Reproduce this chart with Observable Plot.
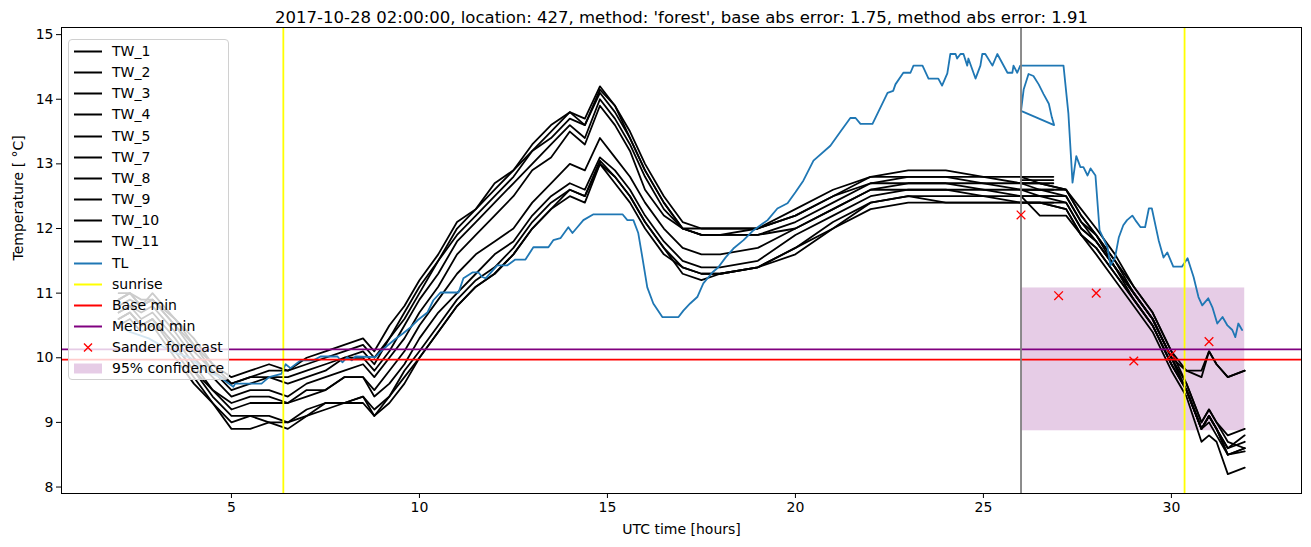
<!DOCTYPE html>
<html><head><meta charset="utf-8">
<script src="https://cdn.jsdelivr.net/npm/d3@7"></script>
<script src="https://cdn.jsdelivr.net/npm/@observablehq/plot@0.6"></script>
<style>
body{margin:0;background:#fff;}
#wrap{position:relative;width:1311px;height:547px;font-family:"DejaVu Sans",sans-serif;}
#legend{position:absolute;left:68px;top:39px;width:161px;height:341px;background:rgba(255,255,255,0.8);border:1px solid #d0d0d0;border-radius:4px;box-sizing:border-box;}
.row{position:absolute;left:0;height:21px;font-size:14px;line-height:21px;white-space:nowrap;color:#000;}
.row svg{position:absolute;left:5px;top:0;}
.row span{position:absolute;left:43px;top:0;}
</style>
</head><body>
<div id="wrap"><div id="chart"></div><div id="legend"></div></div>
<script>
// ---------- data ----------
const titleText = "2017-10-28 02:00:00, location: 427, method: 'forest', base abs error: 1.75, method abs error: 1.91";
const xTicks = [5, 10, 15, 20, 25, 30];
const yTicks = [8, 9, 10, 11, 12, 13, 14, 15];

const twNames = ["TW_1","TW_2","TW_3","TW_4","TW_5","TW_7","TW_8","TW_9","TW_10","TW_11"];
const twHours = [2.0,2.3,2.6,2.9,3.5,4.0,4.5,5.0,5.5,6.0,6.5,7.0,7.5,8.0,8.5,8.8,9.2,9.6,10.0,10.5,11.0,11.5,12.0,12.5,13.0,13.5,14.0,14.4,14.8,15.2,15.6,16.0,16.5,17.0,17.5,18.0,19.0,20.0,21.0,22.0,23.0,24.0,25.0,26.0,26.5,27.2,27.6,28.0,28.5,29.0,29.5,30.0,30.4,30.8,31.0,31.2,31.5,31.95];
const tw1  = [10.9,11.0,10.8,11.0,10.6,10.3,9.9,9.7,9.8,9.9,9.8,10.0,10.1,10.2,10.3,10.1,10.5,10.8,11.2,11.6,12.1,12.3,12.7,12.9,13.3,13.6,13.8,13.7,14.2,13.9,13.5,13.0,12.5,12.1,12.0,12.0,12.0,12.3,12.6,12.8,12.9,12.9,12.8,12.8,12.7,12.6,12.3,12.0,11.6,11.1,10.7,10.1,9.6,9.0,9.2,9.0,8.7,8.6];
const tw2  = [11.0,11.0,10.9,10.9,10.6,10.2,9.9,9.6,9.7,9.8,9.8,9.9,10.0,10.1,10.2,10.0,10.3,10.7,11.1,11.5,12.0,12.3,12.6,12.9,13.2,13.5,13.8,13.6,14.1,13.8,13.4,12.9,12.4,12.0,12.0,12.0,12.0,12.2,12.5,12.8,12.8,12.8,12.8,12.7,12.7,12.6,12.2,11.9,11.5,11.1,10.7,10.1,9.8,9.8,10.1,9.9,9.7,9.8];
const tw3  = [10.8,10.9,10.8,10.9,10.5,10.2,9.8,9.6,9.7,9.7,9.7,9.8,9.9,10.0,10.1,9.9,10.3,10.6,11.0,11.5,11.9,12.2,12.5,12.8,13.2,13.4,13.7,13.6,14.15,13.9,13.4,12.9,12.4,12.0,11.9,11.9,12.0,12.2,12.5,12.7,12.8,12.8,12.7,12.7,12.6,12.6,12.2,11.9,11.5,11.0,10.6,10.0,9.5,8.9,9.1,8.9,8.6,8.7];
const tw4  = [10.9,11.0,10.8,10.9,10.5,10.1,9.8,9.5,9.6,9.7,9.6,9.7,9.8,10.0,10.0,9.8,10.1,10.5,10.9,11.3,11.8,12.1,12.4,12.7,13.0,13.3,13.6,13.4,14.0,13.7,13.3,12.8,12.3,12.0,11.9,11.9,11.9,12.1,12.4,12.7,12.7,12.7,12.7,12.6,12.6,12.5,12.1,11.9,11.4,11.0,10.6,10.0,9.8,9.7,10.1,9.9,9.7,9.8];
const tw5  = [10.7,10.8,10.7,10.8,10.4,10.0,9.7,9.4,9.5,9.5,9.4,9.6,9.7,9.8,9.9,9.7,10.0,10.3,10.7,11.1,11.6,11.9,12.2,12.5,12.9,13.1,13.5,13.3,13.9,13.6,13.2,12.6,12.2,12.0,11.9,11.9,11.9,12.0,12.3,12.6,12.7,12.7,12.6,12.6,12.5,12.5,12.1,11.8,11.4,11.0,10.6,10.0,9.6,9.0,9.2,9.0,8.8,8.9];
const tw7  = [10.6,10.7,10.5,10.6,10.2,9.8,9.5,9.3,9.4,9.4,9.3,9.5,9.5,9.7,9.7,9.5,9.8,10.1,10.5,10.9,11.3,11.6,11.8,12.0,12.4,12.7,13.0,12.9,13.4,13.1,12.8,12.4,12.0,11.7,11.6,11.6,11.7,12.0,12.3,12.6,12.6,12.6,12.6,12.5,12.2,12.2,11.9,11.6,11.2,10.8,10.4,9.8,9.4,8.7,8.8,8.7,8.2,8.3];
const tw8  = [10.7,10.8,10.6,10.7,10.3,9.9,9.5,9.2,9.3,9.3,9.3,9.4,9.5,9.7,9.7,9.4,9.6,9.9,10.3,10.7,11.0,11.3,11.6,11.8,12.2,12.5,12.7,12.6,13.1,12.9,12.6,12.2,11.8,11.5,11.4,11.4,11.5,11.9,12.2,12.5,12.6,12.6,12.5,12.5,12.5,12.4,12.0,11.8,11.4,11.0,10.6,10.0,9.5,8.9,9.1,8.9,8.6,8.8];
const tw9  = [10.6,10.7,10.5,10.6,10.1,9.7,9.3,9.0,9.1,9.1,9.0,9.2,9.3,9.3,9.4,9.2,9.4,9.8,10.1,10.5,10.9,11.2,11.4,11.7,12.1,12.4,12.6,12.5,13.05,12.8,12.5,12.1,11.7,11.4,11.3,11.3,11.4,11.7,12.1,12.4,12.5,12.5,12.5,12.4,12.4,12.4,12.0,11.8,11.4,10.9,10.5,9.9,9.5,8.9,9.1,8.9,8.5,8.6];
const tw10 = [10.5,10.6,10.4,10.5,10.0,9.6,9.3,8.9,8.9,9.0,8.9,9.1,9.2,9.3,9.3,9.1,9.3,9.6,10.0,10.4,10.8,11.1,11.3,11.6,12.0,12.3,12.6,12.5,13.0,12.8,12.5,12.1,11.7,11.3,11.2,11.3,11.4,11.7,12.0,12.4,12.5,12.4,12.4,12.4,12.4,12.3,11.9,11.7,11.3,10.9,10.5,9.9,9.5,8.9,9.1,8.9,8.5,8.55];
const tw11 = [10.6,10.7,10.5,10.6,10.2,9.8,9.4,9.1,9.1,9.0,9.0,9.1,9.3,9.3,9.4,9.1,9.4,9.7,10.0,10.4,10.8,11.1,11.3,11.6,12.0,12.3,12.5,12.4,13.0,12.7,12.4,12.0,11.6,11.4,11.3,11.3,11.4,11.6,12.0,12.3,12.4,12.4,12.4,12.4,12.4,12.3,11.9,11.7,11.3,10.9,10.5,9.9,9.5,8.9,9.0,8.8,8.5,8.6];
const twValues = [tw1, tw2, tw3, tw4, tw5, tw7, tw8, tw9, tw10, tw11];
// short overlapping TW pieces between hour 26 and 26.86
const twTailStart = 26.0, twTailEnd = 26.86;
const twTailLevels = [12.8, 12.75, 12.7, 12.6, 12.5, 12.4];

const tlHours = [2.0,2.3,2.8,3.4,3.9,4.3,4.7,5.05,5.1,5.8,6.0,6.33,6.44,6.57,6.84,7.18,7.37,7.82,7.95,8.08,8.2,8.3,8.83,8.96,9.15,9.36,9.57,9.76,9.95,10.21,10.37,10.56,11.04,11.17,11.41,11.57,11.67,11.76,12.07,12.34,12.55,12.82,13.03,13.43,13.56,13.75,13.96,14.07,14.2,14.36,14.63,15.4,15.53,15.69,15.82,15.93,16.06,16.22,16.46,16.89,17.02,17.2,17.39,17.55,17.79,17.95,18.14,18.35,18.62,18.88,19.26,19.52,19.79,20.0,20.21,20.48,20.93,21.2,21.46,21.6,21.73,22.05,22.45,22.6,22.66,22.87,23.06,23.14,23.38,23.54,23.8,23.9,24.04,24.12,24.26,24.3,24.39,24.47,24.57,24.6,24.79,24.92,24.97,25.05,25.24,25.37,25.64,25.77,25.8,25.9,25.98,26.38,27.13,27.26,27.37,27.47,27.58,27.66,27.77,27.85,27.98,28.09,28.3,28.38,28.5,28.6,28.72,28.82,28.96,29.04,29.18,29.3,29.4,29.48,29.66,29.79,29.89,30.05,30.28,30.43,30.59,30.72,30.82,30.98,31.09,31.22,31.36,31.49,31.62,31.7,31.78,31.88];
const tlTemps = [10.5,10.4,10.3,10.1,10.0,9.8,9.7,9.55,9.6,9.6,9.7,9.75,9.9,9.84,9.96,9.96,10.02,10.02,9.93,10.01,9.96,10.02,10.01,10.09,10.19,10.29,10.38,10.47,10.58,10.7,10.89,11.01,11.01,11.23,11.32,11.32,11.25,11.23,11.43,11.43,11.52,11.52,11.71,11.71,11.82,11.85,12.02,11.93,12.02,12.13,12.22,12.22,12.13,12.13,11.93,11.55,11.09,10.84,10.63,10.63,10.73,10.84,10.94,11.15,11.32,11.4,11.55,11.69,11.82,11.97,12.13,12.31,12.39,12.56,12.74,13.05,13.28,13.5,13.71,13.71,13.62,13.62,14.1,14.13,14.23,14.41,14.41,14.52,14.52,14.32,14.32,14.21,14.4,14.7,14.7,14.63,14.7,14.7,14.52,14.63,14.32,14.52,14.7,14.7,14.52,14.7,14.41,14.41,14.52,14.41,14.52,14.52,14.52,13.78,12.71,13.12,12.95,12.95,12.82,12.93,12.82,11.97,11.71,11.43,11.55,11.86,12.05,12.13,12.2,12.13,12.02,12.02,12.31,12.31,11.82,11.55,11.63,11.41,11.41,11.54,11.25,10.94,10.81,10.92,10.78,10.53,10.63,10.5,10.43,10.32,10.53,10.43];
// TL loop drawn between hour 26 and 27
const tlLoopHours = [26.0,26.07,26.2,26.33,26.47,26.6,26.74,26.82,26.88,26.0];
const tlLoopTemps = [13.82,14.15,14.39,14.36,14.23,14.08,13.93,13.72,13.6,13.82];

const sunriseHours = [6.38, 30.35];
const forecastStartHour = 26.0;
const baseMin = 9.97;
const methodMin = 10.13;
const forecastHours = [26, 27, 28, 29, 30, 31];
const forecastTemps = [12.21, 10.96, 11.0, 9.95, 10.05, 10.25];
const confHours = [26.0, 31.95];
const confTemps = [8.87, 11.08];

// ---------- build tables ----------
const twRows = [];
twNames.forEach((n, i) => twValues[i].forEach((v, j) => twRows.push({series: n, h: twHours[j], t: v})));
const tailRows = [];
twTailLevels.forEach((v, i) => { tailRows.push({k: i, h: twTailStart, t: v}); tailRows.push({k: i, h: twTailEnd, t: v}); });
const tlRows = tlHours.map((h, i) => ({h, t: tlTemps[i]}));
const loopRows = tlLoopHours.map((h, i) => ({h, t: tlLoopTemps[i]}));
const fcRows = forecastHours.map((h, i) => ({h, t: forecastTemps[i]}));
const confRows = [{x1: confHours[0], x2: confHours[1], y1: confTemps[0], y2: confTemps[1]}];

const lw = 1.8;
const chart = Plot.plot({
  width: 1311, height: 547,
  marginLeft: 61, marginRight: 10, marginTop: 27, marginBottom: 54,
  style: {fontSize: "14px", fontFamily: "DejaVu Sans, sans-serif", color: "black", background: "white", overflow: "visible"},
  x: {domain: [0.48, 33.46]},
  y: {domain: [7.9, 15.11]},
  marks: [
    Plot.rect(confRows, {x1: "x1", x2: "x2", y1: "y1", y2: "y2", fill: "purple", fillOpacity: 0.2}),
    Plot.line(twRows, {x: "h", y: "t", z: "series", stroke: "black", strokeWidth: lw}),
    Plot.line(tailRows, {x: "h", y: "t", z: "k", stroke: "black", strokeWidth: lw}),
    Plot.line(tlRows, {x: "h", y: "t", stroke: "#1f77b4", strokeWidth: lw}),
    Plot.line(loopRows, {x: "h", y: "t", stroke: "#1f77b4", strokeWidth: lw}),
    Plot.ruleX(sunriseHours, {stroke: "yellow", strokeWidth: lw}),
    Plot.ruleY([baseMin], {stroke: "red", strokeWidth: lw}),
    Plot.ruleY([methodMin], {stroke: "purple", strokeWidth: lw}),
    Plot.ruleX([forecastStartHour], {stroke: "gray", strokeWidth: lw}),
    Plot.dot(fcRows, {x: "h", y: "t", symbol: "times", stroke: "red", r: 4, strokeWidth: 1.3}),
    Plot.frame({stroke: "black", strokeWidth: 1}),
    Plot.axisX({ticks: xTicks, tickSize: 5, tickPadding: 4, label: null}),
    Plot.axisY({ticks: yTicks, tickSize: 5, tickPadding: 3, label: null}),
    Plot.text([titleText], {frameAnchor: "top", lineAnchor: "middle", dy: -10, fontSize: 16.5}),
    Plot.text(["UTC time [hours]"], {frameAnchor: "bottom", lineAnchor: "middle", dy: 36}),
    Plot.text(["Temperature [ °C]"], {frameAnchor: "left", lineAnchor: "middle", dx: -43, rotate: -90})
  ]
});
document.getElementById("chart").appendChild(chart);

// ---------- legend ----------
const legendItems = twNames.map(n => ({label: n, kind: "line", color: "black"})).concat([
  {label: "TL", kind: "line", color: "#1f77b4"},
  {label: "sunrise", kind: "line", color: "yellow"},
  {label: "Base min", kind: "line", color: "red"},
  {label: "Method min", kind: "line", color: "purple"},
  {label: "Sander forecast", kind: "x", color: "red"},
  {label: "95% confidence", kind: "patch", color: "purple"}
]);
const legend = document.getElementById("legend");
legendItems.forEach((it, i) => {
  const row = document.createElement("div");
  row.className = "row";
  row.style.top = (1 + i * 21.15) + "px";
  let handle;
  if (it.kind === "line") handle = `<line x1="0" y1="10.5" x2="28" y2="10.5" stroke="${it.color}" stroke-width="2"/>`;
  else if (it.kind === "x") handle = `<path d="M10,6.5L18,14.5M18,6.5L10,14.5" stroke="${it.color}" stroke-width="1.4"/>`;
  else handle = `<rect x="0" y="5.5" width="28" height="10" fill="${it.color}" fill-opacity="0.2"/>`;
  row.innerHTML = `<svg width="30" height="21">${handle}</svg><span>${it.label}</span>`;
  legend.appendChild(row);
});
</script>
</body></html>
